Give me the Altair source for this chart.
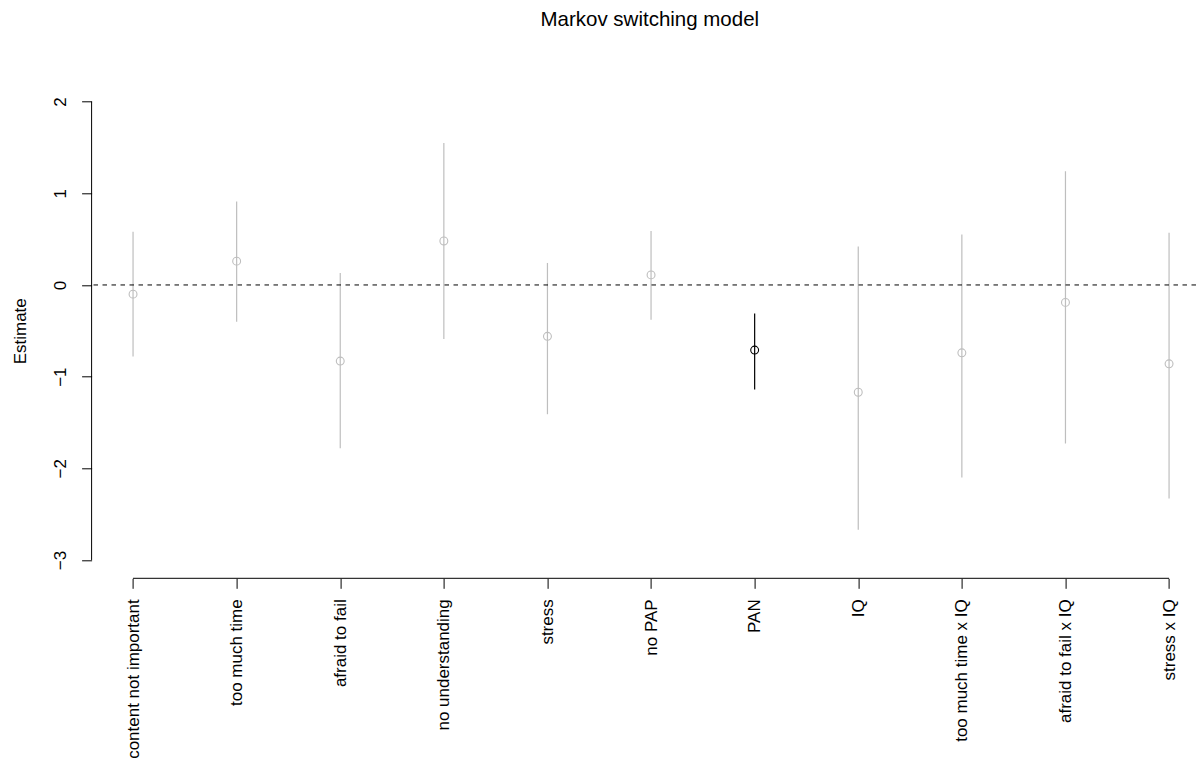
import json
import altair as alt
import pandas as pd

# ---- data ----
categories = ["content not important", "too much time", "afraid to fail",
              "no understanding", "stress", "no PAP", "PAN", "IQ",
              "too much time x IQ", "afraid to fail x IQ", "stress x IQ"]
estimates = [-0.10, 0.26, -0.83, 0.48, -0.56, 0.11, -0.71, -1.17, -0.74, -0.19, -0.86]
lower = [-0.78, -0.40, -1.78, -0.59, -1.41, -0.38, -1.14, -2.67, -2.10, -1.73, -2.33]
upper = [0.58, 0.91, 0.13, 1.55, 0.24, 0.59, -0.31, 0.42, 0.55, 1.24, 0.57]
significant = ["no", "no", "no", "no", "no", "no", "yes", "no", "no", "no", "no"]
y_ticks = [-3, -2, -1, 0, 1, 2]
reference_line = [0]

positions = list(range(1, len(categories) + 1))
df = pd.DataFrame({
    "pos": positions,
    "label": categories,
    "est": estimates,
    "lo": lower,
    "hi": upper,
    "sig": significant,
})

W = 1104.4
H = 495.0
FONT = "Liberation Sans"

x_scale = alt.Scale(domain=[0.6, 11.26], nice=False, zero=False)
y_scale = alt.Scale(domain=[-3.2, 2.2], nice=False, zero=False)
color_scale = alt.Scale(domain=["no", "yes"], range=["#BEBEBE", "#000000"])

label_expr = json.dumps(categories) + "[datum.value - 1]"

x_axis = alt.Axis(values=positions, labelExpr=label_expr, grid=False, domain=False,
                  ticks=True, tickSize=10, tickColor="black", tickWidth=1,
                  labelAngle=270, labelAlign="right", labelBaseline="middle",
                  labelPadding=10.5, labelFontSize=17, labelColor="black",
                  labelFont=FONT, labelLimit=400, labelOverlap=False,
                  labelFlush=False, title=None)
y_axis = alt.Axis(values=y_ticks, format="d", grid=False, domain=False,
                  ticks=True, tickSize=10, tickColor="black", tickWidth=1,
                  labelAngle=270, labelAlign="center", labelBaseline="alphabetic",
                  labelPadding=16, labelFontSize=17, labelColor="black",
                  labelFont=FONT, labelFlush=False, labelOverlap=False,
                  title="Estimate", titleFontSize=17, titleFont=FONT,
                  titleFontWeight="normal", titleColor="black", titleAngle=270,
                  titleX=-66.6, titleY=H / 2, titleAlign="center",
                  titleBaseline="alphabetic")

base = alt.Chart(df)

bars = base.mark_rule(strokeWidth=1.2).encode(
    x=alt.X("pos:Q", scale=x_scale, axis=x_axis),
    y=alt.Y("lo:Q", scale=y_scale, axis=y_axis),
    y2="hi:Q",
    color=alt.Color("sig:N", scale=color_scale, legend=None),
)

points = base.mark_point(shape="circle", filled=False, size=62, strokeWidth=1.1,
                         opacity=1).encode(
    x=alt.X("pos:Q"),
    y=alt.Y("est:Q"),
    color=alt.Color("sig:N", scale=color_scale, legend=None),
)

zero_line = alt.Chart(pd.DataFrame({"y": reference_line})).mark_rule(
    color="#000000", strokeWidth=1, strokeDash=[4.5, 4.5]).encode(
    y=alt.Y("y:Q"),
)

yaxis_line = alt.Chart(pd.DataFrame({"lo": [min(y_ticks)], "hi": [max(y_ticks)]})).mark_rule(
    color="black", strokeWidth=1).encode(
    x=alt.value(0),
    y=alt.Y("lo:Q"),
    y2="hi:Q",
)

xaxis_line = alt.Chart(pd.DataFrame({"pos": [positions[0]], "b": [positions[-1]]})).mark_rule(
    color="black", strokeWidth=1).encode(
    x=alt.X("pos:Q"),
    x2="b:Q",
    y=alt.value(H),
)

chart = alt.layer(bars, zero_line, points, yaxis_line, xaxis_line).properties(
    width=W,
    height=H,
    title=alt.TitleParams("Markov switching model", fontSize=20.5, font=FONT,
                          fontWeight="normal", color="black", anchor="middle",
                          frame="group", baseline="alphabetic", offset=37, dx=6),
    autosize=alt.AutoSizeParams(type="none"),
    padding={"left": 83.6, "top": 75.3, "right": 0, "bottom": 186},
).configure(font=FONT).configure_view(strokeWidth=0, stroke="transparent")

chart.save("out.html", embed_options={"renderer": "svg", "actions": False})
